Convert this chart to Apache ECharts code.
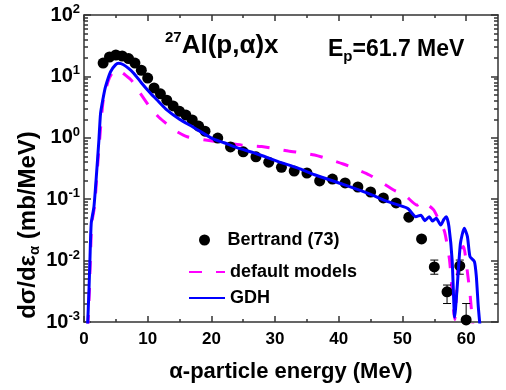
<!DOCTYPE html>
<html><head><meta charset="utf-8">
<script src="https://cdn.jsdelivr.net/npm/echarts@6/dist/echarts.min.js"></script>
<style>html,body{margin:0;padding:0;background:#fff}#c{width:506px;height:390px}</style>
</head><body><div id="c"></div>
<script>
// ---- data ----
const expE = [3,4,5,6,7,8,9,10,11,12,13,14,15,16,17,18,19,21,23,25,27,29,31,33,35,37,39,41,43,45,47,49,51,53,55,57,59,60];
const expV = [16.5,20.7,22.3,21.5,19.5,16.5,12.6,9.4,6.5,5.2,4.1,3.3,2.7,2.35,1.95,1.55,1.28,0.99,0.71,0.59,0.49,0.40,0.33,0.287,0.267,0.198,0.213,0.184,0.158,0.131,0.105,0.087,0.051,0.0225,0.0079,0.0031,0.0082,0.00108];
const errE = [55,57,59,60];
const errLo = [0.006,0.002,0.006,0.0007];
const errHi = [0.0102,0.004,0.0102,0.002];

const gdhE = [0.55,0.78,0.93,1.14,1.56,1.98,2.34,2.6,3.0,3.38,4.16,4.94,5.45,6.2,7.0,7.8,9.0,10.4,11.7,13.0,15.0,17.1,20.1,22,24,26.9,30.5,33.6,36.2,40.7,44.8,47.7,50.8,52.1,52.9,53.5,54.2,54.7,55.3,56.0,56.5,56.9,57.3,57.8,58.2,58.6,59.1,59.7,60.2,60.6,61.3,61.6,61.9,62.2];
const gdhV = [0.0008,0.0033,0.0102,0.041,0.075,0.27,0.92,2.5,4.4,6.8,11.9,15.4,16.3,15.5,13.5,11.3,7.9,5.37,3.9,2.84,2.0,1.5,0.98,0.83,0.69,0.56,0.41,0.32,0.25,0.174,0.122,0.091,0.071,0.052,0.055,0.0447,0.052,0.044,0.049,0.038,0.047,0.052,0.0356,0.0102,0.0012,0.0038,0.019,0.0336,0.0246,0.0116,0.0096,0.0055,0.0018,0.0008];

const defE = [0.6,0.85,1.0,1.22,1.65,2.05,2.45,2.75,3.0,3.54,4.0,4.56,5.0,5.6,6.5,7.43,8.3,10.3,11.8,14.3,16.2,19.1,24.8,27.9,32.1,36.2,40.7,44.8,48.7,50.3,52.3,53.1,53.6,54.9,55.7,56.6,57.4,58.2,58.8,59.3,59.6,60.1,60.6,60.9,61.1];
const defV = [0.0008,0.0033,0.0102,0.041,0.075,0.27,0.92,2.2,3.9,6.8,9.5,11.9,12.7,12.3,10.5,8.7,6.4,3.2,2.14,1.32,1.04,0.92,0.76,0.72,0.61,0.525,0.374,0.248,0.14,0.118,0.080,0.092,0.087,0.067,0.046,0.03,0.01,0.0011,0.0102,0.016,0.017,0.0078,0.0029,0.0013,0.0008];

const xTicks = [0,10,20,30,40,50,60];
const xMinor = [5,15,25,35,45,55];
const yDecades = [-3,-2,-1,0,1,2];
const yMinorMult = [2,3,4,5,6,7,8,9];

// ---- chart ----
const FF = '"Liberation Sans", Arial, Helvetica, sans-serif';
const AX = {color:'#333', width:1.5};
const minorLog = [];
yDecades.slice(0,-1).forEach(k => yMinorMult.forEach(m => minorLog.push(k + Math.log10(m))));

const chart = echarts.init(document.getElementById('c'), null, {renderer:'canvas'});
const noSplit = {show:false};
const txt = {fontFamily:FF, fontWeight:'bold', color:'#000'};

const option = {
  animation:false,
  backgroundColor:'#fff',
  grid:{left:84, top:15, right:8, bottom:68, containLabel:false},
  title:[
    {text:'{sup|27}{big|Al(p,α)x}', left:165, top:30, padding:0,
     textStyle:{rich:{
       sup:Object.assign({fontSize:15, lineHeight:15, verticalAlign:'top'}, txt),
       big:Object.assign({fontSize:26, lineHeight:32}, txt)}}},
    {text:'{big|E}{sub|p}{big|=61.7 MeV}', left:328, top:36, padding:0,
     textStyle:{rich:{
       sub:Object.assign({fontSize:15, lineHeight:15, verticalAlign:'bottom'}, txt),
       big:Object.assign({fontSize:23, lineHeight:28}, txt)}}}
  ],
  graphic:[{
    type:'text', x:28, y:225, rotation:Math.PI/2,
    style:{text:'{a|dσ/dε}{s|α}{a| (mb/MeV)}', align:'center', verticalAlign:'middle',
      rich:{
        a:{fontSize:24, fontWeight:'bold', fontFamily:FF, fill:'#000', lineHeight:28},
        s:{fontSize:15, fontWeight:'bold', fontFamily:FF, fill:'#000', lineHeight:15, verticalAlign:'bottom'}
      }}
  }],
  legend:[
    {data:['Bertrand (73)'], left:199, top:231, itemWidth:36, itemHeight:11, selectedMode:false, padding:0,
     itemStyle:{opacity:1}, textStyle:Object.assign({fontSize:18}, txt)},
    {data:['default models'], left:188, top:263, itemWidth:36, itemHeight:12, selectedMode:false, padding:0,
     itemStyle:{opacity:0}, textStyle:Object.assign({fontSize:18}, txt)},
    {data:['GDH'], left:188, top:289, itemWidth:36, itemHeight:12, selectedMode:false, padding:0,
     itemStyle:{opacity:0}, textStyle:Object.assign({fontSize:18}, txt)}
  ],
  xAxis:[
    {type:'value', position:'bottom', min:0, max:65, interval:10,
     axisLine:{show:true, onZero:false, lineStyle:AX},
     axisTick:{inside:true, length:6, customValues:xTicks, lineStyle:AX},
     axisLabel:Object.assign({customValues:xTicks, margin:9, fontSize:17}, txt),
     name:'α-particle energy (MeV)', nameLocation:'middle', nameGap:39,
     nameTextStyle:Object.assign({fontSize:22}, txt),
     splitLine:noSplit},
    {type:'value', position:'bottom', min:0, max:65,
     axisLine:{show:false, onZero:false}, axisTick:{inside:true, length:3, customValues:xMinor, lineStyle:AX},
     axisLabel:{show:false}, splitLine:noSplit},
    {type:'value', position:'top', min:0, max:65,
     axisLine:{show:true, onZero:false, lineStyle:AX}, axisTick:{inside:true, length:6, customValues:xTicks, lineStyle:AX},
     axisLabel:{show:false}, splitLine:noSplit},
    {type:'value', position:'top', min:0, max:65,
     axisLine:{show:false, onZero:false}, axisTick:{inside:true, length:3, customValues:xMinor, lineStyle:AX},
     axisLabel:{show:false}, splitLine:noSplit}
  ],
  yAxis:[
    {type:'log', logBase:10, min:0.001, max:100, position:'left',
     axisLine:{show:true, onZero:false, lineStyle:AX},
     axisTick:{inside:true, length:7, lineStyle:AX},
     axisLabel:{margin:4, color:'#000',
       formatter:v => '{b|10}{s|' + Math.round(Math.log10(v)) + '}',
       rich:{
         b:Object.assign({fontSize:20, lineHeight:24}, txt),
         s:Object.assign({fontSize:13, lineHeight:13, verticalAlign:'top'}, txt)}},
     splitLine:noSplit, minorTick:{show:false}},
    {type:'value', min:-3, max:2, position:'left',
     axisLine:{show:false, onZero:false}, axisTick:{inside:true, length:4, customValues:minorLog, lineStyle:AX},
     axisLabel:{show:false}, splitLine:noSplit},
    {type:'value', min:-3, max:2, interval:1, position:'right',
     axisLine:{show:true, onZero:false, lineStyle:AX}, axisTick:{inside:true, length:7, customValues:yDecades, lineStyle:AX},
     axisLabel:{show:false}, splitLine:noSplit},
    {type:'value', min:-3, max:2, position:'right',
     axisLine:{show:false, onZero:false}, axisTick:{inside:true, length:4, customValues:minorLog, lineStyle:AX},
     axisLabel:{show:false}, splitLine:noSplit}
  ],
  series:[
    {name:'default models', type:'line', xAxisIndex:0, yAxisIndex:0, symbol:'none', smooth:0.2,
     data:defE.map((e,i)=>[e, defV[i]]), clip:true, z:2,
     lineStyle:{color:'#ff00ff', width:3, type:[13,14]}, itemStyle:{color:'#ff00ff'}},
    {name:'Bertrand (73)', type:'scatter', xAxisIndex:0, yAxisIndex:0, symbol:'circle', symbolSize:11,
     data:expE.map((e,i)=>[e, expV[i]]), itemStyle:{color:'#000', opacity:1}, z:3},
    {name:'err', type:'custom', xAxisIndex:0, yAxisIndex:0, clip:true, z:3, silent:true,
     data:errE.map((e,i)=>[e, errLo[i], errHi[i]]),
     renderItem:(p, api) => {
       const x = api.value(0);
       const a = api.coord([x, api.value(1)]);
       const b = api.coord([x, api.value(2)]);
       const w = 4, st = {stroke:'#000', lineWidth:1};
       return {type:'group', children:[
         {type:'line', shape:{x1:a[0], y1:a[1], x2:b[0], y2:b[1]}, style:st},
         {type:'line', shape:{x1:a[0]-w, y1:a[1], x2:a[0]+w, y2:a[1]}, style:st},
         {type:'line', shape:{x1:b[0]-w, y1:b[1], x2:b[0]+w, y2:b[1]}, style:st}
       ]};
     }},
    {name:'GDH', type:'line', xAxisIndex:0, yAxisIndex:0, symbol:'none', smooth:0.2,
     data:gdhE.map((e,i)=>[e, gdhV[i]]), clip:true, z:4,
     lineStyle:{color:'#0000ff', width:3}, itemStyle:{color:'#0000ff'}}
  ]
};
chart.setOption(option);
</script>
</body></html>
